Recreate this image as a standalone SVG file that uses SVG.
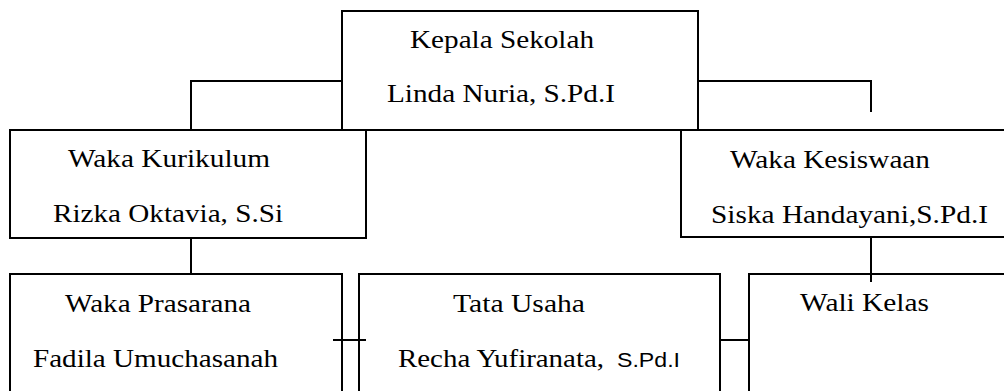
<svg xmlns="http://www.w3.org/2000/svg" width="1004" height="391" viewBox="0 0 1004 391">
<style>
.box{fill:#fff;stroke:#000;stroke-width:2}
.con{fill:none;stroke:#000;stroke-width:2}
.t{font-family:"Liberation Serif","Times New Roman",serif;font-size:26px;fill:#000}
.s{font-family:"Liberation Sans",Arial,sans-serif;font-size:20px;fill:#000}
</style>
<rect width="1004" height="391" fill="#fff"/>
<g id="kepala">
<rect class="box" x="342" y="11" width="356" height="119"/>
<text class="t" x="410" y="48" textLength="184" lengthAdjust="spacingAndGlyphs">Kepala Sekolah</text>
<text class="t" x="387" y="102" textLength="228" lengthAdjust="spacingAndGlyphs">Linda Nuria, S.Pd.I</text>
</g>
<g id="kurikulum">
<rect class="box" x="10" y="130" width="356" height="108"/>
<text class="t" x="68" y="167" textLength="202" lengthAdjust="spacingAndGlyphs">Waka Kurikulum</text>
<text class="t" x="53" y="222" textLength="230" lengthAdjust="spacingAndGlyphs">Rizka Oktavia, S.Si</text>
</g>
<g id="kesiswaan">
<rect class="box" x="681" y="130" width="340" height="107"/>
<text class="t" x="730" y="168" textLength="200" lengthAdjust="spacingAndGlyphs">Waka Kesiswaan</text>
<text class="t" x="711" y="223" textLength="277" lengthAdjust="spacingAndGlyphs">Siska Handayani,S.Pd.I</text>
</g>
<g id="prasarana">
<rect class="box" x="10" y="274" width="332" height="130"/>
<text class="t" x="65" y="312" textLength="186" lengthAdjust="spacingAndGlyphs">Waka Prasarana</text>
<text class="t" x="33" y="367" textLength="245" lengthAdjust="spacingAndGlyphs">Fadila Umuchasanah</text>
</g>
<g id="tatausaha">
<rect class="box" x="359" y="274" width="361" height="130"/>
<text class="t" x="453" y="312" textLength="132" lengthAdjust="spacingAndGlyphs">Tata Usaha</text>
<text class="t" x="398" y="367" textLength="206" lengthAdjust="spacingAndGlyphs">Recha Yufiranata,</text>
<text class="s" x="617" y="367" textLength="63" lengthAdjust="spacingAndGlyphs">S.Pd.I</text>
</g>
<g id="walikelas">
<rect class="box" x="749" y="274" width="300" height="130"/>
<text class="t" x="800" y="311" textLength="129" lengthAdjust="spacingAndGlyphs">Wali Kelas</text>
</g>
<g id="connectors">
<polyline class="con" points="342,81 191,81 191,130"/>
<polyline class="con" points="698,81 871,81 871,112"/>
<line class="con" x1="191" y1="238" x2="191" y2="274"/>
<line class="con" x1="871" y1="237" x2="871" y2="282"/>
<line class="con" x1="333" y1="340" x2="366" y2="340"/>
<line class="con" x1="720" y1="340" x2="749" y2="340"/>
</g>
</svg>
